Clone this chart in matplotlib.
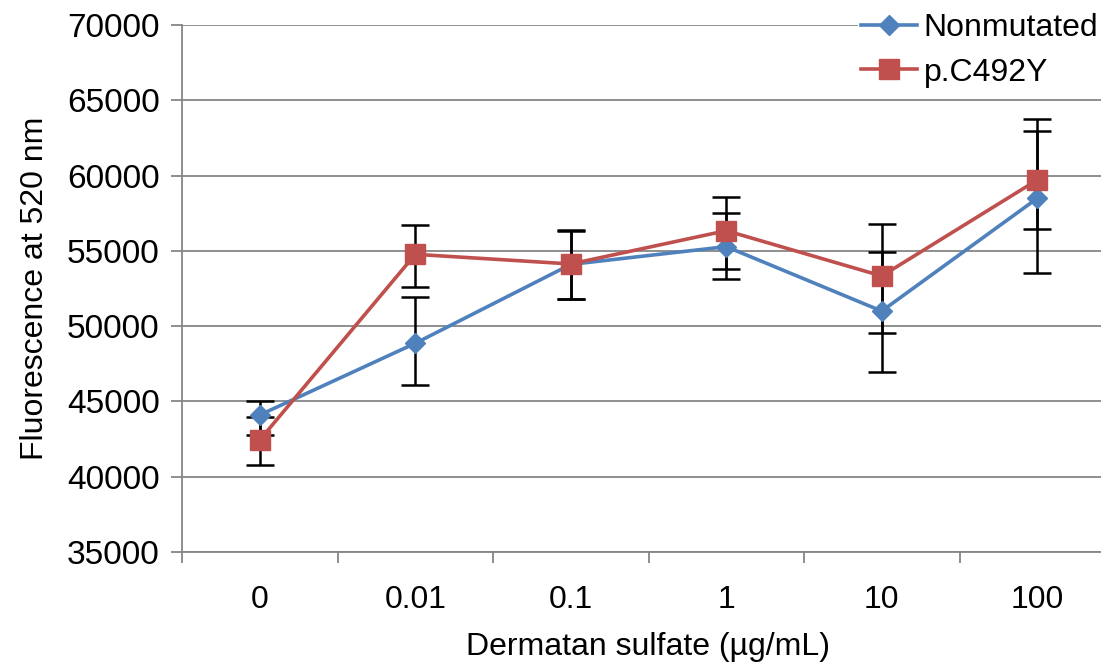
import matplotlib
matplotlib.use("Agg")
import matplotlib.pyplot as plt
import numpy as np

plt.rcParams['font.family'] = ['Liberation Sans', 'DejaVu Sans']

categories = ["0", "0.01", "0.1", "1", "10", "100"]
nonmutated = [44100, 48860, 54100, 55280, 51000, 58490]
nonmutated_err_low = [1300, 2770, 2300, 2150, 4030, 4980]
nonmutated_err_high = [900, 3050, 2250, 2260, 3940, 5270]
c492y = [42440, 54770, 54130, 56340, 53330, 59710]
c492y_err_low = [1650, 2190, 2350, 2560, 3800, 3280]
c492y_err_high = [1500, 1950, 2250, 2260, 3450, 3250]
y_ticks = [35000, 40000, 45000, 50000, 55000, 60000, 65000, 70000]

W, H = 1101, 662
fig = plt.figure(figsize=(W / 100, H / 100), dpi=100)
left, right, bottom, top = 182, 1115, 552, 25
ax = fig.add_axes([left / W, (H - bottom) / H, (right - left) / W, (bottom - top) / H])

x = np.arange(len(categories))
blue = '#4F81BD'
red = '#C0504D'

ax.errorbar(x, nonmutated, yerr=[nonmutated_err_low, nonmutated_err_high], fmt='none',
            ecolor='black', elinewidth=1.8, capsize=10, capthick=1.8, zorder=2)
ax.errorbar(x, c492y, yerr=[c492y_err_low, c492y_err_high], fmt='none',
            ecolor='black', elinewidth=1.8, capsize=10, capthick=1.8, zorder=2)
ax.plot(x, nonmutated, color=blue, lw=2.6, marker='D', markersize=10,
        markerfacecolor=blue, markeredgecolor=blue, label='Nonmutated', zorder=3)
ax.plot(x, c492y, color=red, lw=2.6, marker='s', markersize=15,
        markerfacecolor=red, markeredgecolor=red, label='p.C492Y', zorder=4)

ax.set_xlim(-0.5, len(categories) - 0.5)
ax.set_ylim(35000, 70000)
ax.set_yticks(y_ticks)
ax.set_yticklabels([str(v) for v in y_ticks])
ax.set_xticks(x)
ax.set_xticklabels(categories)
ax.set_xticks(np.arange(-0.5, len(categories)), minor=True)
ax.tick_params(axis='x', which='major', length=0, pad=24, labelsize=23)
ax.tick_params(axis='x', which='minor', length=8, width=1.3, color='#868686', direction='out')
ax.tick_params(axis='y', length=8, width=1.3, color='#868686', labelsize=24, pad=8)
ax.grid(axis='y', color='#868686', lw=1.3)
ax.set_axisbelow(True)
for s in ['top', 'right']:
    ax.spines[s].set_visible(False)
for s in ['left', 'bottom']:
    ax.spines[s].set_color('#868686')
    ax.spines[s].set_linewidth(1.3)

ax.set_xlabel('Dermatan sulfate (µg/mL)', fontsize=23, labelpad=12)
ax.set_ylabel('Fluorescence at 520 nm', fontsize=23, labelpad=12)

leg = fig.legend(loc='upper left', bbox_to_anchor=(858 / W, (H - 10) / H), fontsize=23,
                 frameon=True, fancybox=False, edgecolor='white', facecolor='white',
                 framealpha=1, borderpad=0.1, handlelength=1.75, handletextpad=0.2,
                 labelspacing=0.45, borderaxespad=0)

fig.savefig('out.png', dpi=100)
